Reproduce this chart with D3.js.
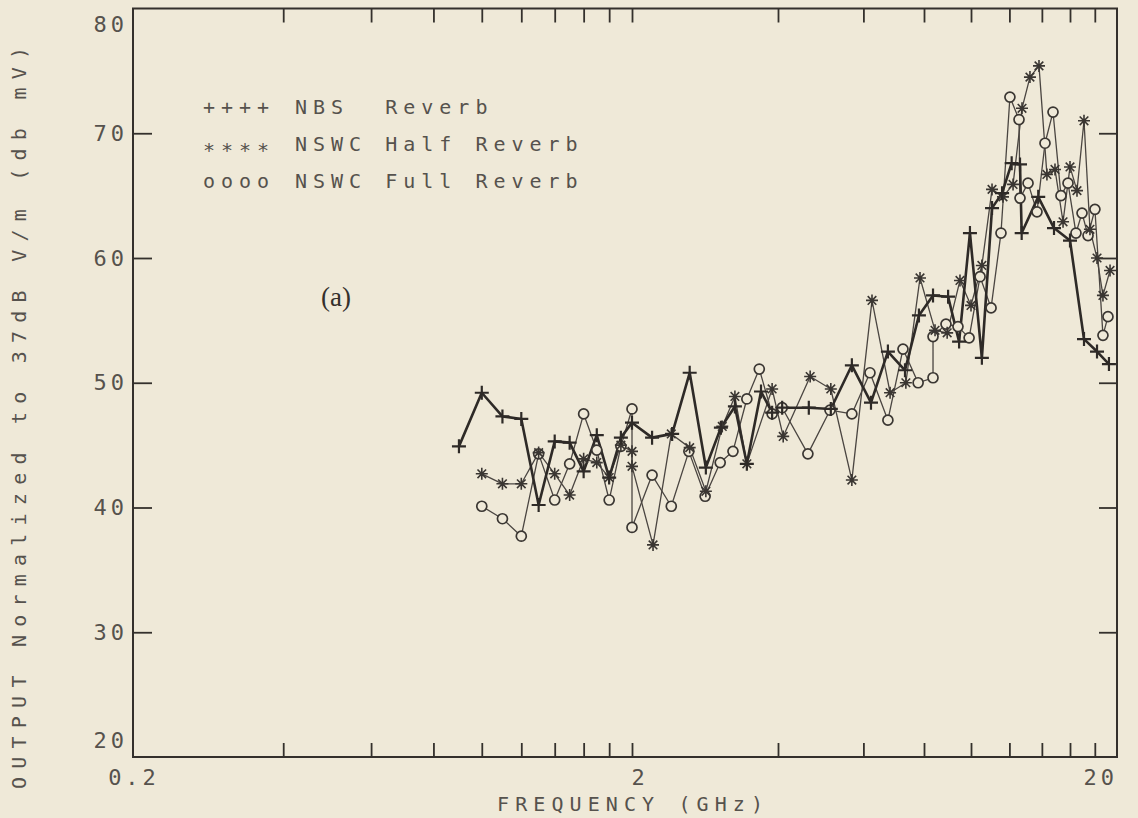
<!DOCTYPE html>
<html><head><meta charset="utf-8">
<script src="https://cdn.jsdelivr.net/npm/d3@7"></script>
<style>
html,body{margin:0;padding:0;background:#efe9d8;}
svg{display:block}
</style></head>
<body><svg id="chart" width="1138" height="818"></svg>
<script>
// ---- data (frequency in GHz, output in dB) ----
const nbsFreq  = [0.9,1.0,1.1,1.2,1.3,1.4,1.5,1.6,1.7,1.8,1.9,2.0,2.2,2.42,2.63,2.84,3.05,3.26,3.45,3.69,3.89,4.08,4.63,5.14,5.68,6.22,6.74,7.31,7.81,8.35,8.97,9.45,9.95,10.53,11.05,11.59,12.13,12.62,12.72,13.76,14.83,16.0,17.1,18.19,19.25];
const nbsLevel = [44.9,49.2,47.3,47.1,40.2,45.3,45.2,42.9,45.8,42.4,45.6,46.8,45.6,45.9,50.8,43.2,46.4,48.1,43.5,49.3,47.6,48.0,48.0,47.9,51.4,48.4,52.5,51.0,55.4,57.0,56.9,53.3,62.0,52.0,64.0,65.2,67.6,67.5,62.0,64.9,62.4,61.4,53.5,52.5,51.5];

const halfFreq  = [1.0,1.1,1.2,1.3,1.4,1.5,1.6,1.7,1.8,1.9,2.0,2.0,2.21,2.41,2.63,2.84,3.07,3.26,3.45,3.89,4.1,4.66,5.14,5.68,6.25,6.81,7.34,7.85,8.43,8.93,9.49,10.0,10.53,11.05,11.64,12.21,12.74,13.23,13.81,14.34,14.9,15.48,16.0,16.54,17.1,17.59,18.19,18.71,19.35];
const halfLevel = [42.7,41.9,41.9,44.4,42.7,41.0,43.9,43.6,42.4,45.0,44.5,43.3,37.0,45.9,44.8,41.3,46.5,48.9,43.5,49.5,45.7,50.5,49.5,42.2,56.6,49.2,50.0,58.4,54.2,54.0,58.2,56.2,59.4,65.5,64.9,65.9,72.0,74.5,75.4,66.7,67.1,62.9,67.3,65.4,71.0,62.3,60.0,57.0,59.0];

const fullFreq  = [1.0,1.1,1.2,1.3,1.4,1.5,1.6,1.7,1.8,1.9,2.0,2.0,2.2,2.41,2.62,2.83,3.04,3.23,3.45,3.66,3.89,4.08,4.61,5.12,5.68,6.19,6.74,7.24,7.78,8.35,8.35,8.88,9.4,9.91,10.44,11.0,11.53,12.03,12.56,12.62,13.11,13.68,14.21,14.76,15.33,15.85,16.46,16.94,17.43,18.01,18.71,19.16];
const fullLevel = [40.1,39.1,37.7,44.3,40.6,43.5,47.5,44.6,40.6,44.9,47.9,38.4,42.6,40.1,44.5,40.9,43.6,44.5,48.7,51.1,47.5,48.0,44.3,47.8,47.5,50.8,47.0,52.7,50.0,50.4,53.7,54.7,54.5,53.6,58.5,56.0,62.0,72.9,71.1,64.8,66.0,63.7,69.2,71.7,65.0,66.0,62.0,63.6,61.8,63.9,53.8,55.3];

const xTickValues  = [0.4,0.6,0.8,1.0,1.2,1.4,1.6,1.8,2,4,6,8,10,12,14,16,18];
const xLabelValues = [0.2,2,20];
const xLabelTexts  = ["0.2","2","20"];
const yTickValues  = [30,40,50,60,70];
const yLabelValues = [20,30,40,50,60,70,80];

const legendMarkers = ["++++","****","oooo"];
const legendNames   = ["NBS  Reverb","NSWC Half Reverb","NSWC Full Reverb"];
const xTitle = "FREQUENCY (GHz)";
const yTitle = "OUTPUT Normalized to 37dB V/m (db mV)";
const panelTag = "(a)";

// ---- layout / style ----
const BG = "#efe9d8", INK = "#34302c", TXT = "#56524d";
const L = 133, R = 1117, T = 8.5, B = 757;
const MONO = "'DejaVu Sans Mono', 'Liberation Mono', monospace";

const svg = d3.select("#chart");
svg.append("rect").attr("width",1138).attr("height",818).attr("fill",BG);

const x = d3.scaleLog().domain([0.2,2,20]).range([L,632,R]);
const y = d3.scaleLinear().domain([20,80]).range([B,T]);

// frame
svg.append("rect").attr("x",L).attr("y",T).attr("width",R-L).attr("height",B-T)
  .attr("fill","none").attr("stroke",INK).attr("stroke-width",2);

function cleanAxis(g){ g.select(".domain").remove(); g.selectAll("text").remove();
  g.selectAll("line").attr("stroke",INK).attr("stroke-width",1.8); }

svg.append("g").attr("transform",`translate(0,${B})`)
  .call(d3.axisBottom(x).tickValues(xTickValues).tickSize(-14).tickFormat(""))
  .call(cleanAxis);
svg.append("g").attr("transform",`translate(0,${T})`)
  .call(d3.axisTop(x).tickValues(xTickValues).tickSize(-14).tickFormat(""))
  .call(cleanAxis);
svg.append("g").attr("transform",`translate(${L},0)`)
  .call(d3.axisLeft(y).tickValues(yTickValues).tickSize(-19).tickFormat(""))
  .call(cleanAxis);
svg.append("g").attr("transform",`translate(${R},0)`)
  .call(d3.axisRight(y).tickValues(yTickValues).tickSize(-18).tickFormat(""))
  .call(cleanAxis);

// y tick labels
svg.append("g").selectAll("text").data(yLabelValues).join("text")
  .attr("x",128)
  .attr("y",d => y(d) + (d===80 ? 16 : d===20 ? -16.5 : 0))
  .attr("dominant-baseline","central")
  .attr("text-anchor","end")
  .attr("font-family",MONO).attr("font-size",22).attr("letter-spacing",4)
  .attr("fill",TXT).text(d => String(d));

// x tick labels
svg.append("g").selectAll("text").data(xLabelValues).join("text")
  .attr("x",(d,i) => i===2 ? x(d) + 1 : i===1 ? x(d) + 8 : x(d) + 1)
  .attr("y",785)
  .attr("text-anchor",(d,i) => i===2 ? "end" : "middle")
  .attr("font-family",MONO).attr("font-size",22).attr("letter-spacing",4)
  .attr("fill",TXT).text((d,i) => xLabelTexts[i]);

// axis titles
svg.append("text").attr("x",630).attr("y",811).attr("text-anchor","middle")
  .attr("font-family",MONO).attr("font-size",20)
  .attr("textLength",266).attr("lengthAdjust","spacing")
  .attr("fill",TXT).text(xTitle);
svg.append("text").attr("transform","translate(26,418) rotate(-90)")
  .attr("text-anchor","middle")
  .attr("font-family",MONO).attr("font-size",20)
  .attr("textLength",742).attr("lengthAdjust","spacing")
  .attr("fill",TXT).text(yTitle);

// panel tag
svg.append("text").attr("x",336).attr("y",306).attr("text-anchor","middle")
  .attr("font-family","'Liberation Serif','DejaVu Serif',serif").attr("font-size",27)
  .attr("fill",INK).text(panelTag);

// legend
const legRows = [114,151,188];
legendNames.forEach((name,i) => {
  svg.append("text").attr("x",203).attr("y",legRows[i] + (i===1 ? 6 : 0))
    .attr("font-family",MONO).attr("font-size",20).attr("letter-spacing",6)
    .attr("fill",TXT).text(legendMarkers[i]);
  svg.append("text").attr("x",295).attr("y",legRows[i])
    .style("white-space","pre")
    .attr("font-family",MONO).attr("font-size",20).attr("letter-spacing",6)
    .attr("fill",TXT).text(name);
});

// series
const nbs  = d3.zip(nbsFreq, nbsLevel);
const half = d3.zip(halfFreq, halfLevel);
const full = d3.zip(fullFreq, fullLevel);
const line = d3.line().x(d => x(d[0])).y(d => y(d[1]));

svg.append("path").datum(full).attr("d",line).attr("fill","none")
  .attr("stroke","#4a4541").attr("stroke-width",1.3).attr("stroke-linejoin","round");
svg.append("path").datum(half).attr("d",line).attr("fill","none")
  .attr("stroke","#4a4541").attr("stroke-width",1.3).attr("stroke-linejoin","round");
svg.append("path").datum(nbs).attr("d",line).attr("fill","none")
  .attr("stroke","#2e2a27").attr("stroke-width",2.6).attr("stroke-linejoin","round");

// markers
svg.append("g").selectAll("circle").data(full).join("circle")
  .attr("cx",d => x(d[0])).attr("cy",d => y(d[1])).attr("r",5)
  .attr("fill",BG).attr("stroke","#3a3632").attr("stroke-width",1.7);
svg.append("g").selectAll("path").data(half).join("path")
  .attr("transform",d => `translate(${x(d[0])},${y(d[1])})`)
  .attr("d","M-6,0H6M0,-6V6M-4.3,-4.3L4.3,4.3M-4.3,4.3L4.3,-4.3")
  .attr("fill","none").attr("stroke","#3a3632").attr("stroke-width",1.6);
svg.append("g").selectAll("path").data(nbs).join("path")
  .attr("transform",d => `translate(${x(d[0])},${y(d[1])})`)
  .attr("d","M-7,0H7M0,-7V7")
  .attr("fill","none").attr("stroke","#2e2a27").attr("stroke-width",2.2);
</script>
</body></html>
